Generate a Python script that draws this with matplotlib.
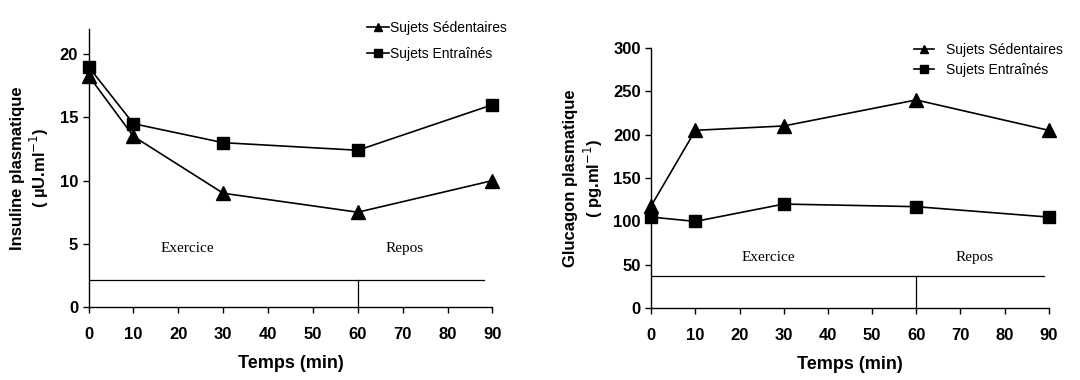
import matplotlib.pyplot as plt

plt.rcParams['font.family'] = ['Liberation Sans', 'DejaVu Sans']

# Time points (min)
temps = [0, 10, 30, 60, 90]

# Insuline plasmatique (µU.ml-1)
insuline_sedentaires = [18.3, 13.5, 9.0, 7.5, 10.0]
insuline_entraines = [19.0, 14.5, 13.0, 12.4, 16.0]

# Glucagon plasmatique (pg.ml-1)
glucagon_sedentaires = [118, 205, 210, 240, 205]
glucagon_entraines = [105, 100, 120, 117, 105]

labels = ['Sujets Sédentaires', 'Sujets Entraînés']
xticks = [0, 10, 20, 30, 40, 50, 60, 70, 80, 90]


def draw_panel(ax, sed, ent, ylim, yticks, ylabel, bar_y, bar_end, text_y, text_x):
    ax.plot(temps, sed, color='black', lw=1.2, marker='^', ms=10.5,
            clip_on=False, zorder=3, label=labels[0])
    ax.plot(temps, ent, color='black', lw=1.2, marker='s', ms=8.5,
            clip_on=False, zorder=3, label=labels[1])

    # phase annotation
    ax.plot([0, bar_end], [bar_y, bar_y], color='black', lw=0.9)
    ax.plot([60, 60], [0, bar_y], color='black', lw=0.9)
    ax.text(text_x[0], text_y, 'Exercice', family=['Liberation Serif'],
            fontsize=11, ha='center', va='center')
    ax.text(text_x[1], text_y, 'Repos', family=['Liberation Serif'],
            fontsize=11, ha='center', va='center')

    ax.set_xlim(0, 90)
    ax.set_ylim(*ylim)
    ax.set_xticks(xticks)
    ax.set_yticks(yticks)
    for s in ['top', 'right']:
        ax.spines[s].set_visible(False)
    for s in ['left', 'bottom']:
        ax.spines[s].set_linewidth(1.0)
    ax.tick_params(direction='out', length=4, width=1, labelsize=12)
    ax.tick_params(axis='x', pad=10.5)
    for lab in ax.get_xticklabels() + ax.get_yticklabels():
        lab.set_fontweight('bold')
    ax.set_xlabel('Temps (min)', fontsize=13, fontweight='bold', labelpad=9)
    ax.set_ylabel(ylabel, fontsize=12, fontweight='bold', labelpad=6)


fig = plt.figure(figsize=(10.8, 3.8), dpi=100)
ax1 = fig.add_axes([0.082, 0.192, 0.374, 0.732])
ax2 = fig.add_axes([0.603, 0.189, 0.368, 0.685])

draw_panel(ax1, insuline_sedentaires, insuline_entraines, (0, 22),
           [0, 5, 10, 15, 20], 'Insuline plasmatique\n( µU.ml$^{-1}$)',
           2.1, 88, 4.6, (22, 70.5))
draw_panel(ax2, glucagon_sedentaires, glucagon_entraines, (0, 300),
           [0, 50, 100, 150, 200, 250, 300],
           'Glucagon plasmatique\n( pg.ml$^{-1}$)', 37, 89, 58, (26.5, 73.3))

h, l = ax1.get_legend_handles_labels()
fig.legend(h, l, loc='upper left', bbox_to_anchor=(0.328, 0.978),
           frameon=False, fontsize=10, handlelength=1.6, handletextpad=0.1,
           labelspacing=0.9, markerscale=0.6)
h, l = ax2.get_legend_handles_labels()
fig.legend(h, l, loc='upper left', bbox_to_anchor=(0.835, 0.92),
           frameon=False, fontsize=10, handlelength=1.45, handletextpad=0.8,
           labelspacing=0.45, markerscale=0.6)

fig.savefig('out.png', dpi=100)
